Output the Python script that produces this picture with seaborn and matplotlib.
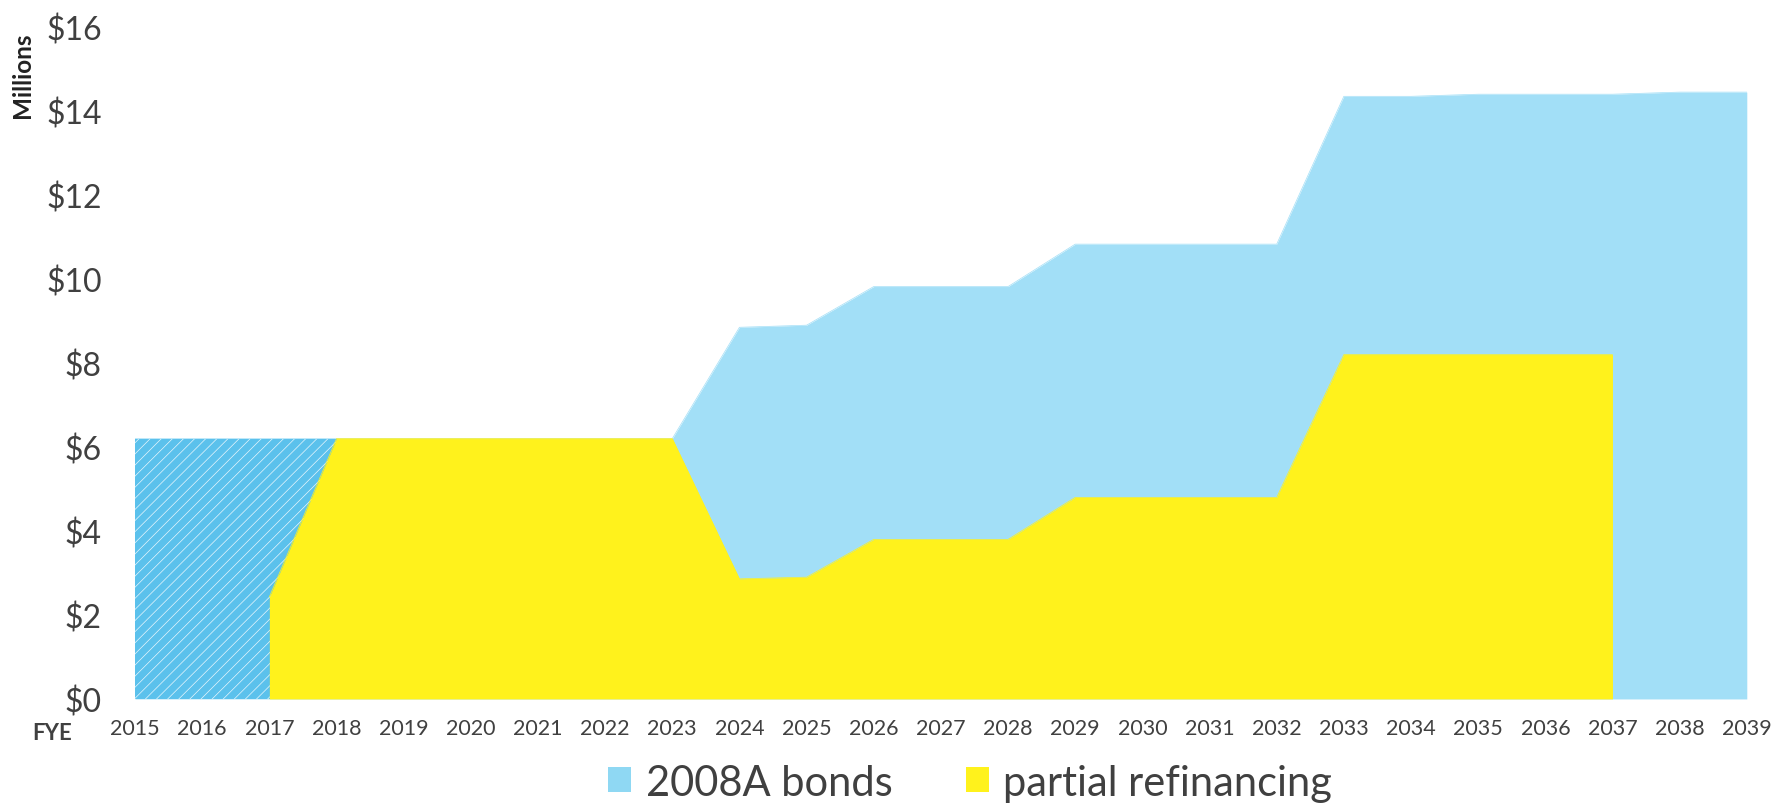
import numpy as np
import pandas as pd
import matplotlib
matplotlib.use("Agg")
import matplotlib.pyplot as plt
from matplotlib.patches import Patch
import seaborn as sns

# Fiscal years (FYE) and annual debt service, $ millions
years = list(range(2015, 2040))
bonds_2008a = [6.2, 6.2, 6.2, 6.2, 6.2, 6.2, 6.2, 6.2, 6.2,
               8.85, 8.9, 9.82, 9.82, 9.82,
               10.83, 10.83, 10.83, 10.83,
               14.35, 14.35, 14.4, 14.4, 14.4, 14.45, 14.45]
partial_refi = [np.nan, np.nan, 2.43, 6.2, 6.2, 6.2, 6.2, 6.2, 6.2,
                2.86, 2.9, 3.8, 3.8, 3.8,
                4.8, 4.8, 4.8, 4.8,
                8.2, 8.2, 8.2, 8.2, 8.2, np.nan, np.nan]
# Years already paid before the refinancing takes effect
paid_years = [2015, 2016, 2017, 2018]

y_ticks = [0, 2, 4, 6, 8, 10, 12, 14, 16]
y_tick_labels = [f"${v}" for v in y_ticks]
series_names = ["2008A bonds", "partial refinancing"]

df = pd.DataFrame({"FYE": years, "bonds": bonds_2008a, "refi": partial_refi})

BLUE = "#A2DFF7"
BLUE_DARK = "#5BC1EC"
YELLOW = "#FFF21C"
TEXT = "#404040"

sns.set_theme(style="white")
plt.rcParams["font.family"] = ["Lato", "DejaVu Sans"]
plt.rcParams["hatch.color"] = "#E8F6FC"
plt.rcParams["hatch.linewidth"] = 0.5

fig = plt.figure(figsize=(17.77, 8.12), dpi=100)
ax = fig.add_axes([0.076, 0.138, 0.907, 0.8275])

# 2008A bonds: full debt service area
sns.lineplot(data=df, x="FYE", y="bonds", color=BLUE, linewidth=0.5, ax=ax)
ax.fill_between(df["FYE"], 0, df["bonds"], color=BLUE, linewidth=0)

# earlier years shaded darker with a light diagonal texture
early = df[df["FYE"].isin(paid_years)]
ax.fill_between(early["FYE"], 0, early["bonds"], facecolor=BLUE_DARK,
                edgecolor="#E8F6FC", hatch="///", linewidth=0)

# partial refinancing overlaid in front
sns.lineplot(data=df, x="FYE", y="refi", color=YELLOW, linewidth=0.5, ax=ax)
ax.fill_between(df["FYE"], 0, df["refi"], color=YELLOW, linewidth=0)

ax.set_xlim(years[0], years[-1])
ax.set_ylim(0, 16)
ax.set_xticks(years)
ax.set_xticklabels([str(y) for y in years], fontsize=15.5, color=TEXT)
ax.set_yticks(y_ticks)
ax.set_yticklabels(y_tick_labels, fontsize=23, color=TEXT)
ax.tick_params(axis="x", length=0, pad=14)
ax.tick_params(axis="y", length=0, pad=24)
ax.set_xlabel("")
ax.set_ylabel("")
sns.despine(ax=ax, left=True, bottom=True)
ax.grid(False)

fig.text(0.0295, 0.097, "FYE", fontsize=16, fontweight="bold", color=TEXT,
         ha="center", va="center")
fig.text(0.0125, 0.907, "Millions", fontsize=17.5, fontweight="bold",
         color="#222222", rotation=90, ha="center", va="center")

handles = [Patch(facecolor="#8FD8F3", edgecolor="none"),
           Patch(facecolor=YELLOW, edgecolor="none")]
fig.legend(handles, series_names, loc="center", ncol=2,
           bbox_to_anchor=(0.546, 0.035), frameon=False, fontsize=30,
           labelcolor=TEXT, handlelength=0.55, handleheight=0.55,
           handletextpad=0.35, columnspacing=1.75, borderaxespad=0)

fig.savefig("out.png", dpi=100, facecolor="white")
